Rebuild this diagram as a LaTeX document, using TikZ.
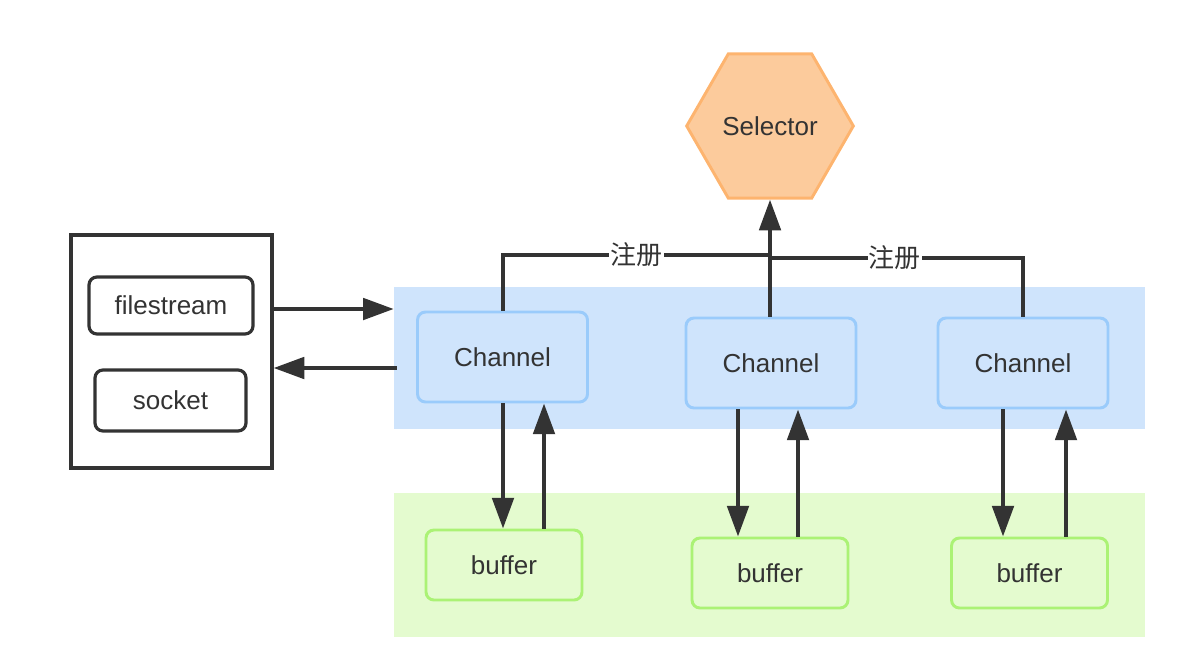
\documentclass[tikz,border=0pt]{standalone}
\usepackage{fontspec}
\setmainfont{Liberation Sans}
\newfontfamily\cjk{Noto Sans CJK SC}
\usetikzlibrary{shapes.geometric,arrows.meta,calc}
\definecolor{ink}{HTML}{333333}
\definecolor{bandblue}{HTML}{CFE4FC}
\definecolor{chanline}{HTML}{9ACBFB}
\definecolor{bandgreen}{HTML}{E4FBCF}
\definecolor{bufline}{HTML}{ABF275}
\definecolor{selfill}{HTML}{FCCB9C}
\definecolor{selline}{HTML}{FDB46F}
\begin{document}
\begin{tikzpicture}[x=0.75pt,y=-0.75pt,
  every node/.style={font=\fontsize{19.5}{22}\selectfont, text=ink},
  band/.style={fill=#1, draw=none, inner sep=0pt},
  outerbox/.style={draw=ink, line width=2.4pt, fill=white, inner sep=0pt},
  srcbox/.style={draw=ink, line width=2.4pt, rounded corners=6pt, inner sep=0pt},
  chanbox/.style={draw=chanline, fill=bandblue, line width=2.2pt, rounded corners=6pt, inner sep=0pt, minimum width=127.5pt, minimum height=67.5pt},
  bufbox/.style={draw=bufline, fill=bandgreen, line width=2.2pt, rounded corners=6pt, inner sep=0pt, minimum width=117pt, minimum height=52.5pt},
  selbox/.style={regular polygon, regular polygon sides=6, draw=selline, fill=selfill, line width=2.2pt, inner sep=0pt, minimum size=125pt},
  arr/.style={draw=ink, line width=3pt, -{Triangle[length=23pt,width=16pt]}},
  link/.style={draw=ink, line width=3pt},
  reglabel/.style={fill=white, inner sep=1pt, font=\cjk\fontsize{19.5}{22}\selectfont}
]
\useasboundingbox (0,0) rectangle (1188,664);

% bands
\node[band=bandblue, minimum width=563.25pt, minimum height=106.5pt] (bandC) at (769.5,358) {};
\node[band=bandgreen, minimum width=563.25pt, minimum height=108pt] (bandB) at (769.5,565) {};

% left container
\node[outerbox, minimum width=150.75pt, minimum height=174.75pt] (container) at (171.5,351.5) {};
\node[srcbox, minimum width=123pt, minimum height=42.75pt] (filestream) at (171,305.5) {filestream};
\node[srcbox, minimum width=113.25pt, minimum height=45.75pt] (socket) at (170.5,400.5) {socket};

% channels
\node[chanbox] (ch1) at (502.5,357) {Channel};
\node[chanbox] (ch2) at (771,363) {Channel};
\node[chanbox] (ch3) at (1023,363) {Channel};

% buffers
\node[bufbox] (buf1) at (504,565) {buffer};
\node[bufbox] (buf2) at (770,573) {buffer};
\node[bufbox] (buf3) at (1029.5,573) {buffer};

% selector
\node[selbox] (selector) at (770,126) {Selector};

% container <-> channel band
\draw[arr] ($(container.east)+(0,-42.5)$) -- ($(bandC.west)+(0,-49)$);
\draw[arr] ($(bandC.west)+(3,10)$) -- ($(container.east)+(0,16.5)$);

% registration lines
\coordinate (j1) at (770,255);
\coordinate (j2) at (770,258);
\draw[link] (ch1.north) |- node[reglabel, pos=0.75] {注册} (j1);
\draw[link] (ch3.north) |- node[reglabel, pos=0.753] {注册} (j2);
\draw[arr] (ch2.north -| selector.south) -- (selector.south);

% channel <-> buffer
\coordinate (d1) at ($(ch1.south)+(0.5,0)$);
\coordinate (u1) at ($(ch1.south)+(41.5,0)$);
\coordinate (d2) at ($(ch2.south)+(-33,0)$);
\coordinate (u2) at ($(ch2.south)+(27,0)$);
\coordinate (d3) at ($(ch3.south)+(-20,0)$);
\coordinate (u3) at ($(ch3.south)+(43,0)$);
\draw[arr] (d1) -- (d1 |- buf1.north);
\draw[arr] (u1 |- buf1.north) -- (u1);
\draw[arr] (d2) -- (d2 |- buf2.north);
\draw[arr] (u2 |- buf2.north) -- (u2);
\draw[arr] (d3) -- (d3 |- buf3.north);
\draw[arr] (u3 |- buf3.north) -- (u3);
\end{tikzpicture}
\end{document}
